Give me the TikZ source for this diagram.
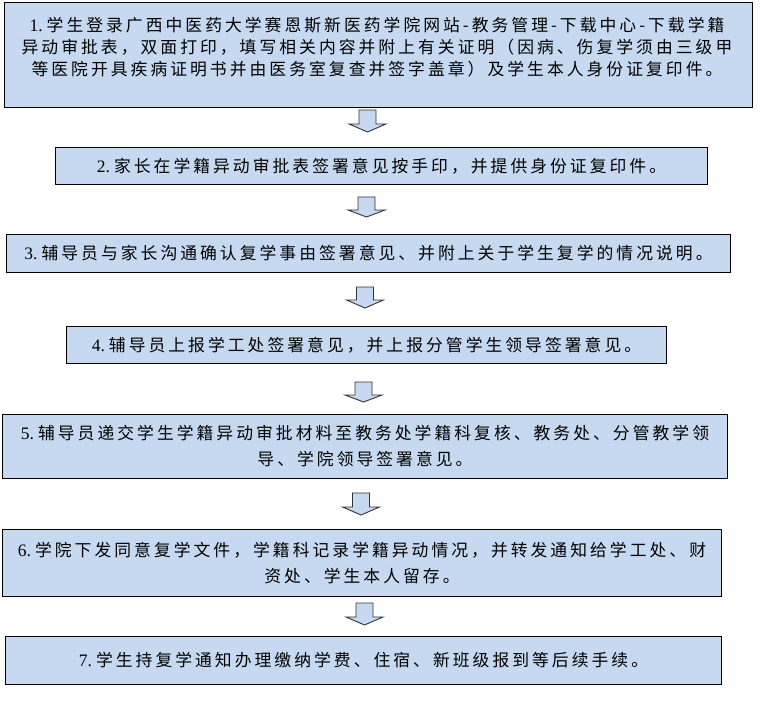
\documentclass[tikz,border=0pt]{standalone}
\usepackage{fontspec}
\setmainfont{Liberation Serif}
\newfontfamily\cjk[LetterSpace=18]{Noto Sans CJK SC}
\definecolor{boxblue}{HTML}{C6D9F1}
\newcommand{\stepno}[1]{{\rmfamily\fontsize{17.5pt}{17.5pt}\selectfont #1.}\hspace{4pt}}
\newcommand{\blockarrow}[3]{%
  \draw[barrow] (#1) ++(-8.5,0) -- ++(17,0) -- ++(0,#2) -- ++(10,0)
    -- ++(-18.5,#3) -- ++(-18.5,-#3) -- ++(10,0) -- cycle;}
\begin{document}
\begin{tikzpicture}[x=1pt,y=-1pt,
  box/.style={draw=black, line width=1pt, fill=boxblue, inner sep=0pt,
    anchor=north west, align=center, text=black,
    font=\fontsize{16.8pt}{26pt}\selectfont\cjk},
  txt/.style={inner sep=0pt, align=center, text=black,
    font=\fontsize{16.8pt}{22pt}\selectfont\cjk},
  barrow/.style={fill=boxblue, draw=black!80, line width=0.9pt, line join=miter}]
\useasboundingbox (0,0) rectangle (762,711);
\fill[white] (0,0) rectangle (762,711);

\node[box, minimum width=748pt, minimum height=105pt] (b1) at (4,2) {};
\node[txt] (t1) at (377,47) {\stepno{1}学生登录广西中医药大学赛恩斯新医药学院网站-教务管理-下载中心-下载学籍\\
异动审批表，双面打印，填写相关内容并附上有关证明（因病、伤复学须由三级甲\\
等医院开具疾病证明书并由医务室复查并签字盖章）及学生本人身份证复印件。};

\node[box, minimum width=652pt, minimum height=37pt] (b2) at (55,147)
  {\stepno{2}家长在学籍异动审批表签署意见按手印，并提供身份证复印件。};

\node[box, minimum width=724pt, minimum height=38pt] (b3) at (6,234)
  {\stepno{3}辅导员与家长沟通确认复学事由签署意见、并附上关于学生复学的情况说明。};

\node[box, minimum width=600pt, minimum height=37pt] (b4) at (66,326)
  {\stepno{4}辅导员上报学工处签署意见，并上报分管学生领导签署意见。};

\node[box, minimum width=725pt, minimum height=64pt] (b5) at (2,414)
  {\stepno{5}辅导员递交学生学籍异动审批材料至教务处学籍科复核、教务处、分管教学领\\
   导、学院领导签署意见。};

\node[box, minimum width=719pt, minimum height=67pt] (b6) at (2,529)
  {\stepno{6}学院下发同意复学文件，学籍科记录学籍异动情况，并转发通知给学工处、财\\
   资处、学生本人留存。};

\node[box, minimum width=716pt, minimum height=48pt] (b7) at (5,636)
  {\stepno{7}学生持复学通知办理缴纳学费、住宿、新班级报到等后续手续。};

\coordinate (a1) at (367.5,110);
\coordinate (a2) at (366.5,197);
\coordinate (a3) at (365,287);
\coordinate (a4) at (363.5,382);
\coordinate (a5) at (361,493);
\coordinate (a6) at (364.5,603);
\blockarrow{a1}{14}{8}
\blockarrow{a2}{13}{7}
\blockarrow{a3}{13}{8}
\blockarrow{a4}{13}{7}
\blockarrow{a5}{14}{8}
\blockarrow{a6}{14}{8}
\end{tikzpicture}
\end{document}
